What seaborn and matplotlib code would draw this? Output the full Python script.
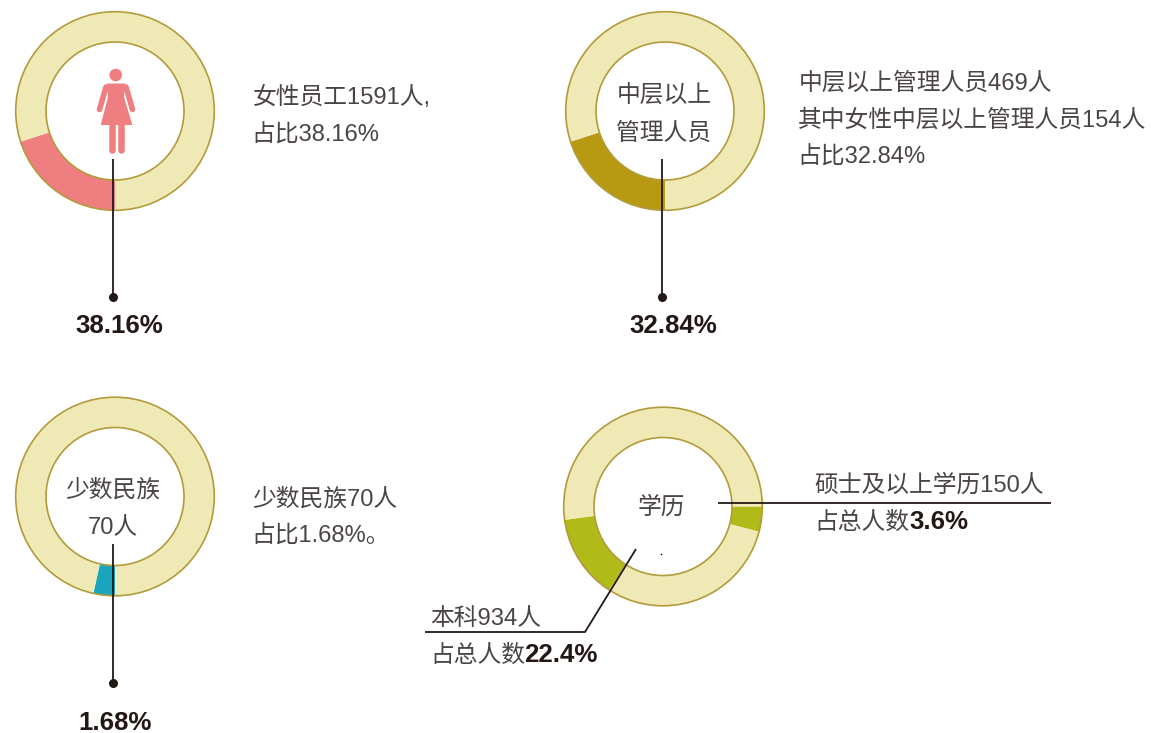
import matplotlib
matplotlib.use("Agg")
import matplotlib.pyplot as plt
import seaborn as sns
from matplotlib.patches import Circle, Polygon

sns.set_theme(style="white")
CJK = ['Liberation Sans', 'Noto Sans CJK SC', 'DejaVu Sans']
plt.rcParams['font.family'] = CJK

W, H = 1151, 733
# drawn share of each arc, as fractions of the ring
female_share = [0.2, 0.8]
manager_share = [0.2, 0.8]
minority_share = [0.035, 0.965]
edu_share = [0.041, 0.30, 0.1375, 0.5215]

PALE = '#EFE9B5'
EDGE = '#B39B3C'
PINK = '#EF7E80'
GOLD = '#B89A12'
TEAL = '#1AA6BF'
OLIVE = '#B0BB1A'
INK = '#231815'
TXT = '#4A4544'

fig = plt.figure(figsize=(W/100, H/100), dpi=100)
ax = fig.add_axes([0, 0, 1, 1])
Y = lambda y: H - y
OUT, INN = 99.3, 69


def ring(cx, cy, vals, cols, start):
    ax.pie(vals, colors=cols, center=(cx, Y(cy)), radius=OUT, startangle=start,
           counterclock=False, frame=True,
           wedgeprops=dict(width=OUT - INN, linewidth=0))
    for r in (OUT, INN):
        ax.add_patch(Circle((cx, Y(cy)), r, fill=False, ec=EDGE, lw=1.2, zorder=3))


# clockwise from the bottom of the ring
ring(115, 111, female_share, [PINK, PALE], 270)
ring(665, 111, manager_share, [GOLD, PALE], 270)
ring(115, 496.5, minority_share, [TEAL, PALE], 270)
ring(663, 506.5, edu_share, [OLIVE, PALE, OLIVE, PALE], 0)
ax.set_xlim(0, W); ax.set_ylim(0, H); ax.axis('off')


def line(xs, ys, lw=1.3):
    ax.plot(xs, [Y(v) for v in ys], color=INK, lw=lw, zorder=5, solid_capstyle='butt')


def dot(x, y, ms=6.5):
    ax.plot([x], [Y(y)], 'o', color=INK, ms=ms, mew=0, zorder=5)


def t(x, y, s, size=17.15, ha='left', weight='light'):
    ax.text(x, Y(y + 9), s, fontsize=size, ha=ha, va='baseline',
            color=TXT if weight != 'bold' else INK,
            family=CJK, fontweight=weight, zorder=6)


# leaders
line([113, 113], [159, 297]); dot(113, 297)
line([662, 662], [159, 297]); dot(662, 297)
line([113, 113], [544, 683]); dot(113, 683)
line([718, 1051], [503, 503])
line([636, 585, 425], [549, 632, 632])
dot(661, 554, 1.2)

# female pictogram
ax.add_patch(Circle((115.7, Y(75)), 6.3, fc=PINK, ec='none', zorder=5))
ax.add_patch(Polygon([(107, Y(83.5)), (125, Y(83.5)), (124, Y(97)), (132.3, Y(125)),
                      (100.7, Y(125)), (108, Y(97))],
                     fc=PINK, ec='none', zorder=5))
ax.plot([106, 99.5], [Y(87), Y(109.5)], color=PINK, lw=4, solid_capstyle='round', zorder=5)
ax.plot([126, 132.5], [Y(87), Y(109.5)], color=PINK, lw=4, solid_capstyle='round', zorder=5)
ax.plot([112.3, 112.3], [Y(124), Y(150)], color=PINK, lw=4.7, solid_capstyle='round', zorder=5)
ax.plot([120.7, 120.7], [Y(124), Y(150)], color=PINK, lw=4.7, solid_capstyle='round', zorder=5)

# centre labels
t(664, 94, '中层以上', ha='center')
t(664, 131, '管理人员', ha='center')
t(113, 488, '少数民族', ha='center')
t(113, 525, '70人', ha='center')
t(661, 505, '学历', ha='center')

# side labels
t(253, 95, '女性员工1591人,')
t(251, 133, '占比38.16%')
t(799, 81, '中层以上管理人员469人')
t(798, 118, '其中女性中层以上管理人员154人')
t(797, 155, '占比32.84%')
t(252, 497, '少数民族70人')
t(251, 534, '占比1.68%。')
t(814, 483, '硕士及以上学历150人')
t(814, 520, '占总人数')
t(909, 520, '3.6%', size=18.6, weight='bold')
t(430, 616, '本科934人')
t(430, 653, '占总人数')
t(524, 653, '22.4%', size=18.6, weight='bold')

# big percentages
t(119, 324, '38.16%', size=18.6, ha='center', weight='bold')
t(673, 324, '32.84%', size=18.6, ha='center', weight='bold')
t(115, 721, '1.68%', size=18.6, ha='center', weight='bold')

fig.savefig('out.png', dpi=100, facecolor='white')
